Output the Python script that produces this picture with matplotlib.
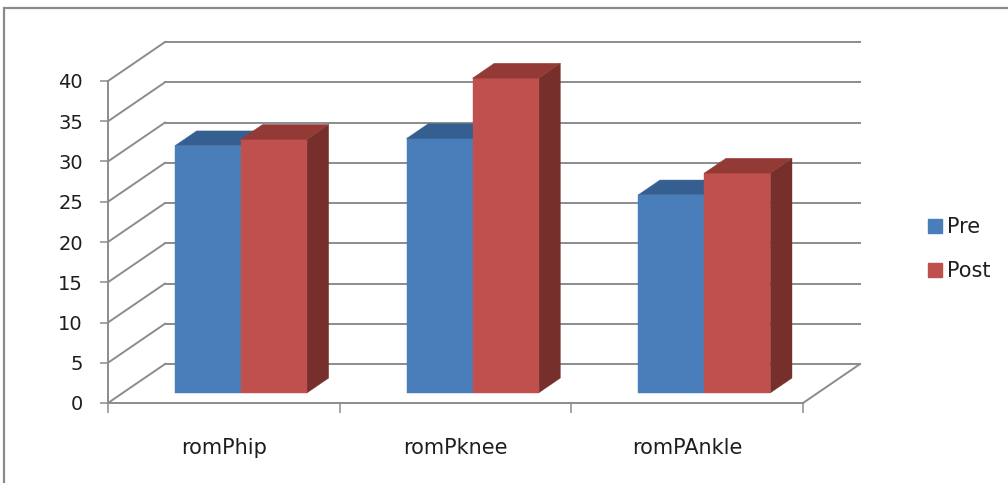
import matplotlib.pyplot as plt
import numpy as np
from matplotlib.patches import Polygon, Rectangle
from matplotlib.lines import Line2D

categories = ['romPhip', 'romPknee', 'romPAnkle']
pre = [30.7, 31.6, 24.6]
post = [31.5, 39.1, 27.3]
series_names = ['Pre', 'Post']
yticks = np.arange(0, 41, 5)

# face colours: front, top, side
blue = ['#4a7ebb', '#355f91', '#2c4f79']
red = ['#c0504d', '#933a37', '#772f2b']
grid_col = '#8c8c8c'
text_col = '#1e1e1e'

W, H = 1008, 483
fig = plt.figure(figsize=(W / 100, H / 100), dpi=100)
plt.rcParams['font.family'] = ['DejaVu Sans']

ax = fig.add_axes([108 / W, (H - 403) / H, 695 / W, 322 / H])
ax.set_xlim(0, 3)
ax.set_ylim(0, 40)
ax.patch.set_visible(False)

# depth of the 3d box in data units
DX, DY = 0.246, 4.84

# back wall gridlines and left wall diagonals
for v in yticks:
    ax.plot([DX, 3 + DX], [v + DY, v + DY], color=grid_col, lw=1.4, clip_on=False, zorder=1)
    ax.plot([0, DX], [v, v + DY], color=grid_col, lw=1.4, clip_on=False, zorder=1)
# floor right edge
ax.plot([3, 3 + DX], [0, DY], color=grid_col, lw=1.4, clip_on=False, zorder=1)

def draw_bar(x0, width, value, cols, f0=0.26, f1=0.64):
    x1 = x0 + width
    a = (f0 * DX, f0 * DY)
    b = (f1 * DX, f1 * DY)
    front = [(x0 + a[0], a[1]), (x1 + a[0], a[1]),
             (x1 + a[0], a[1] + value), (x0 + a[0], a[1] + value)]
    top = [(x0 + a[0], a[1] + value), (x1 + a[0], a[1] + value),
           (x1 + b[0], b[1] + value), (x0 + b[0], b[1] + value)]
    side = [(x1 + a[0], a[1]), (x1 + b[0], b[1]),
            (x1 + b[0], b[1] + value), (x1 + a[0], a[1] + value)]
    for pts, c in zip([side, front, top], [cols[2], cols[0], cols[1]]):
        ax.add_patch(Polygon(pts, closed=True, facecolor=c, edgecolor=c,
                             lw=0.3, clip_on=False, zorder=3))

bw = 0.285
for i in range(len(categories)):
    left = i + 0.51 - bw
    draw_bar(left, bw, pre[i], blue)
    draw_bar(left + bw, bw, post[i], red)

# front axes
for s in ['top', 'right']:
    ax.spines[s].set_visible(False)
for s in ['left', 'bottom']:
    ax.spines[s].set_color(grid_col)
    ax.spines[s].set_linewidth(1.4)

ax.set_yticks(yticks)
ax.tick_params(axis='y', direction='out', length=6, width=1.1, color=grid_col,
               labelsize=14, labelcolor=text_col, pad=12)
ax.set_xticks([0, 1, 2, 3])
ax.set_xticklabels([])
ax.set_xticks([0.5, 1.5, 2.5], minor=True)
ax.set_xticklabels(categories, minor=True)
ax.tick_params(axis='x', which='major', direction='out', length=7, width=1.1, color=grid_col)
ax.tick_params(axis='x', which='minor', length=0, labelsize=15, labelcolor=text_col, pad=25)

handles = [Line2D([], [], marker='s', ls='none', markersize=10, color=blue[0]),
           Line2D([], [], marker='s', ls='none', markersize=10, color=red[0])]
fig.legend(handles, series_names, loc='center left', bbox_to_anchor=(908 / W, 1 - 249 / H),
           frameon=False, fontsize=15, handlelength=0.8, handletextpad=0.15,
           labelspacing=1.15, labelcolor=text_col)

# chart border
fig.add_artist(Rectangle((4 / W, -0.1), 1.2, 1.1 - 8 / H, transform=fig.transFigure,
                         fill=False, edgecolor='#8a8a8a', lw=1.6))

# descender of the line of text above the chart
fig.text(32 / W, 1 + 9 / H, 'p', family='Liberation Serif', weight='bold',
         fontsize=16, color='black', va='baseline')

fig.savefig('out.png', dpi=100)
